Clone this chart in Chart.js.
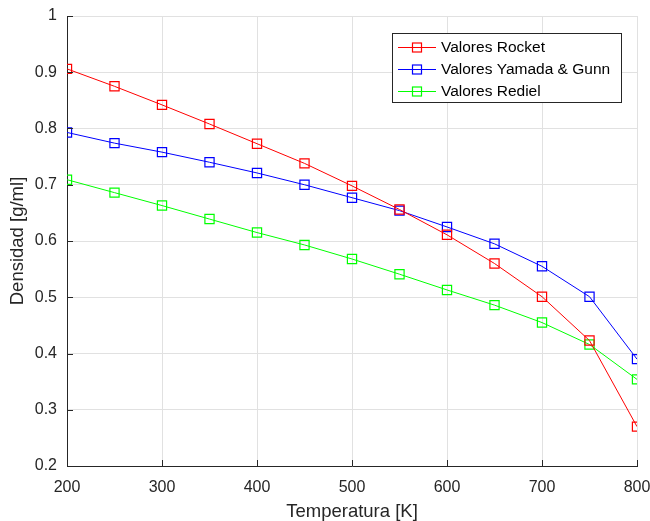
<!DOCTYPE html>
<html>
<head>
<meta charset="utf-8">
<script src="https://cdn.jsdelivr.net/npm/chart.js@4/dist/chart.umd.min.js"></script>
<style>
  html, body { margin: 0; padding: 0; background: #fff; }
  #wrap { width: 650px; height: 521px; position: relative; }
</style>
</head>
<body>
<div id="wrap"><canvas id="densChart"></canvas></div>
<script>
// Temperaturas [K]
var temperaturas = [200, 250, 300, 350, 400, 450, 500, 550, 600, 650, 700, 750, 800];

// Densidad [g/ml] por método
var valoresRocket = [0.906, 0.875, 0.842, 0.808, 0.773, 0.738, 0.698, 0.656, 0.611, 0.560, 0.501, 0.423, 0.270];
var valoresYamadaGunn = [0.793, 0.774, 0.758, 0.740, 0.721, 0.700, 0.677, 0.654, 0.625, 0.595, 0.555, 0.501, 0.390];
var valoresRediel = [0.709, 0.686, 0.663, 0.639, 0.615, 0.593, 0.568, 0.541, 0.513, 0.486, 0.455, 0.416, 0.354];

var xTicks = [200, 300, 400, 500, 600, 700, 800];
var yTicks = [0.2, 0.3, 0.4, 0.5, 0.6, 0.7, 0.8, 0.9, 1];

var FONT = '"Liberation Sans", Arial, Helvetica, sans-serif';
var AXIS_COLOR = '#262626';
var GRID_COLOR = '#e1e1e1';

function toPoints(values) {
    return temperaturas.map(function (t, i) { return { x: t, y: values[i] }; });
}

function serie(label, values, color) {
    return {
        label: label,
        data: toPoints(values),
        borderColor: color,
        backgroundColor: 'transparent',
        borderWidth: 1,
        pointStyle: 'rect',
        pointRadius: 6.5,
        pointBorderWidth: 1.2,
        pointBorderColor: color,
        pointBackgroundColor: 'transparent',
        tension: 0
    };
}

// short inward tick marks on the bottom and left axes
var innerTicks = {
    id: 'innerTicks',
    afterDatasetsDraw: function (chart) {
        var ctx = chart.ctx, a = chart.chartArea;
        var xs = chart.scales.x, ys = chart.scales.y;
        ctx.save();
        ctx.strokeStyle = AXIS_COLOR;
        ctx.lineWidth = 1;
        ctx.beginPath();
        xTicks.forEach(function (v) {
            var px = Math.round(xs.getPixelForValue(v)) + 0.5;
            ctx.moveTo(px, a.bottom);
            ctx.lineTo(px, a.bottom - 6);
        });
        yTicks.forEach(function (v) {
            var py = Math.round(ys.getPixelForValue(v)) + 0.5;
            ctx.moveTo(a.left, py);
            ctx.lineTo(a.left + 6, py);
        });
        ctx.stroke();
        ctx.restore();
    }
};

// boxed legend inside the upper right of the plot
var boxLegend = {
    id: 'boxLegend',
    afterDraw: function (chart) {
        var ctx = chart.ctx, a = chart.chartArea;
        var w = 229, h = 69;
        var left = a.right - 16 - w, top = a.top + 17;
        ctx.save();
        ctx.fillStyle = '#fff';
        ctx.fillRect(left, top, w, h);
        ctx.strokeStyle = AXIS_COLOR;
        ctx.lineWidth = 1;
        ctx.strokeRect(left + 0.5, top + 0.5, w, h);
        ctx.font = '15.5px ' + FONT;
        ctx.textBaseline = 'middle';
        chart.data.datasets.forEach(function (ds, i) {
            var y = top + 14 + i * 22;
            var c = ds.borderColor;
            ctx.strokeStyle = c;
            ctx.lineWidth = 1;
            ctx.beginPath();
            ctx.moveTo(left + 6, y + 0.5);
            ctx.lineTo(left + 44, y + 0.5);
            ctx.stroke();
            ctx.lineWidth = 1.2;
            ctx.strokeRect(left + 20.5, y - 4, 9, 9);
            ctx.fillStyle = '#000';
            ctx.fillText(ds.label, left + 49, y + 1);
        });
        ctx.restore();
    }
};

new Chart(document.getElementById('densChart'), {
    type: 'line',
    data: {
        datasets: [
            serie('Valores Rocket', valoresRocket, '#ff0000'),
            serie('Valores Yamada & Gunn', valoresYamadaGunn, '#0000ff'),
            serie('Valores Rediel', valoresRediel, '#00ff00')
        ]
    },
    options: {
        responsive: true,
        maintainAspectRatio: false,
        animation: false,
        layout: {
            padding: { top: 16, right: 13, left: 0, bottom: 0 }
        },
        plugins: {
            legend: { display: false },
            tooltip: { enabled: false }
        },
        scales: {
            x: {
                type: 'linear',
                min: 200,
                max: 800,
                afterBuildTicks: function (axis) {
                    axis.ticks = xTicks.map(function (v) { return { value: v }; });
                },
                afterFit: function (axis) {
                    axis.height = 55;
                    axis.paddingLeft = 0;
                    axis.paddingRight = 0;
                },
                grid: { color: GRID_COLOR, drawTicks: false },
                border: { color: AXIS_COLOR, width: 1 },
                ticks: {
                    color: AXIS_COLOR,
                    padding: 12,
                    maxRotation: 0,
                    font: { family: FONT, size: 16 }
                },
                title: {
                    display: true,
                    text: 'Temperatura [K]',
                    color: AXIS_COLOR,
                    padding: { top: 0, bottom: 0 },
                    font: { family: FONT, size: 18.5, lineHeight: 1 }
                }
            },
            y: {
                min: 0.2,
                max: 1,
                afterBuildTicks: function (axis) {
                    axis.ticks = yTicks.map(function (v) { return { value: v }; });
                },
                afterFit: function (axis) {
                    axis.width = 67;
                    axis.paddingTop = 0;
                    axis.paddingBottom = 0;
                },
                grid: { color: GRID_COLOR, drawTicks: false },
                border: { color: AXIS_COLOR, width: 1 },
                ticks: {
                    color: AXIS_COLOR,
                    padding: 10,
                    font: { family: FONT, size: 16 },
                    callback: function (v) { return String(Number(v.toFixed(1))); }
                },
                title: {
                    display: true,
                    text: 'Densidad [g/ml]',
                    color: AXIS_COLOR,
                    padding: { top: 7, bottom: 0 },
                    font: { family: FONT, size: 18.5 }
                }
            }
        }
    },
    plugins: [innerTicks, boxLegend]
});
</script>
</body>
</html>
